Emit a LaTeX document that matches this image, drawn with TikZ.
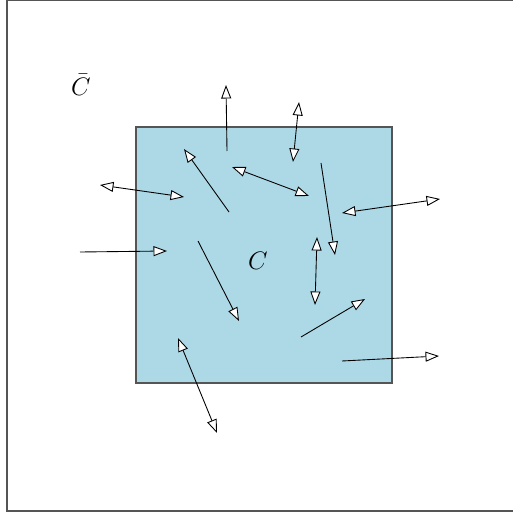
\documentclass[tikz,border=0pt]{standalone}
\usetikzlibrary{arrows.meta}
\definecolor{cellblue}{HTML}{ADD8E6}
\definecolor{edge}{HTML}{555555}

\begin{document}
\begin{tikzpicture}[
  x=0.02cm,y=-0.02cm,
  font=\Large,
  frame/.style={draw=edge,line width=0.6pt},
  cell/.style={draw=edge,line width=0.6pt,fill=cellblue},
  flow/.style={-{Triangle[length=2.7mm,width=2mm,fill=white]},line width=0.5pt},
  swap/.style={{Triangle[length=2.7mm,width=2mm,fill=white]}-{Triangle[length=2.7mm,width=2mm,fill=white]},line width=0.5pt},
]
  \useasboundingbox (0,0) rectangle (512,516);
  \draw[frame] (7,0.5) rectangle (530,511);
  \draw[cell] (136,127) rectangle (392,383);

  \node (cbar) at (81,85) {$\bar{C}$};
  \node (c) at (258,261) {$C$};

  % one-way moves
  \draw[flow] (227,151) -- (226,85);
  \draw[flow] (229,212) -- (184,149);
  \draw[flow] (321,163) -- (335,255);
  \draw[flow] (80,252) -- (167,251);
  \draw[flow] (198,241) -- (239,321);
  \draw[flow] (301,337) -- (365,299);
  \draw[flow] (342,361) -- (439,356);

  % two-way moves
  \draw[swap] (299,102) -- (293,162);
  \draw[swap] (100,185) -- (184,197);
  \draw[swap] (232,167) -- (309,196);
  \draw[swap] (342,213) -- (440,199);
  \draw[swap] (317,237) -- (315,305);
  \draw[swap] (178,338) -- (217,433);
\end{tikzpicture}
\end{document}
